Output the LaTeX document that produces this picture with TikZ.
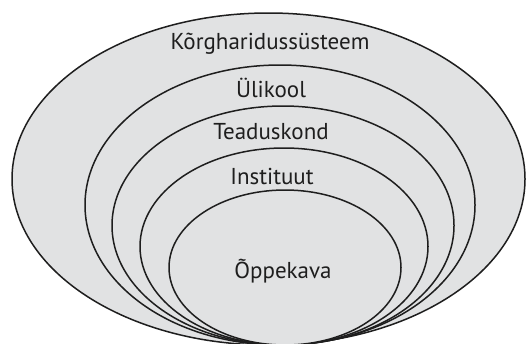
\documentclass[tikz,border=0pt]{standalone}
\usepackage{fontspec}
\setmainfont{PT Sans}
\definecolor{ringfill}{HTML}{E1E2E3}
\definecolor{ringline}{HTML}{1E1E1E}
\tikzset{
  ring/.style={fill=ringfill, draw=ringline, line width=1.5pt},
  lbl/.style={font=\fontsize{23}{25}\selectfont, text=ringline, inner sep=0pt}
}
\begin{document}
\begin{tikzpicture}[x=1pt,y=-1pt]
\useasboundingbox (0,0) rectangle (526,343);
\clip (0,0) rectangle (526,343);
\fill[white] (0,0) rectangle (526,343);
\draw[ring] (268.5,179) ellipse [x radius=256.5, y radius=166];
\draw[ring] (280,205) ellipse [x radius=195, y radius=140];
\draw[ring] (283,225.5) ellipse [x radius=171, y radius=119.5];
\draw[ring] (284,246.5) ellipse [x radius=144, y radius=98.5];
\draw[ring] (285,267.5) ellipse [x radius=116, y radius=77.5];
\node[lbl] (k) at (270,44) {Kõrgharidussüsteem};
\node[lbl] (u) at (271,88) {Ülikool};
\node[lbl] (t) at (271,132) {Teaduskond};
\node[lbl] (i) at (272,176) {Instituut};
\node[lbl] (o) at (283,271) {Õppekava};
\end{tikzpicture}
\end{document}
